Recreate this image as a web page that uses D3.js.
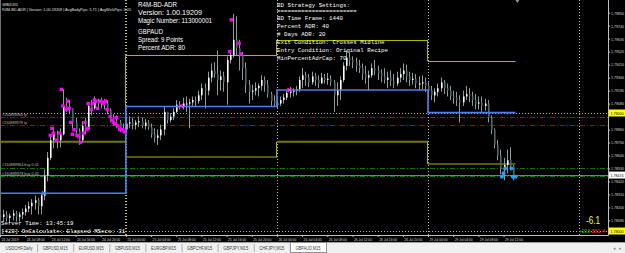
<!DOCTYPE html>
<html><head><meta charset="utf-8">
<script src="https://cdn.jsdelivr.net/npm/d3@7"></script>
<style>
html,body{margin:0;padding:0;background:#000;overflow:hidden}
svg{display:block}
</style></head><body>
<svg id="c" width="625" height="253"></svg>
<script>
// ---------- DATA ----------
// GBPAUD 30-min bars starting 24 Jul 2019 04:00 (trading-hour index 4), step 0.5 h
const barStartHour = 4, barStepHours = 0.5;
const firstOpen = 1.7813;
const highs = [
1.7816,1.7818,1.7817,1.7815,1.7818,1.7817,1.7816,1.7819,1.7822,1.7825,1.7827,1.7830,1.7828,1.7832,1.7852,1.7867,1.7882,1.7888,1.7885,1.7887,1.7920,1.7913,1.7911,1.7904,1.7896,1.7887,1.7893,1.7896,1.7909,1.7911,1.7914,1.7912,1.7913,1.7912,1.7911,1.7904,1.7899,1.7898,1.7894,1.7891,1.7896,
1.7897,1.7896,1.7894,1.7897,1.7896,1.7895,1.7894,1.7891,1.7887,1.7886,1.7890,1.7905,1.7901,1.7900,1.7904,1.7911,1.7910,1.7913,1.7914,1.7912,1.7914,1.7914,1.7919,1.7925,1.7925,1.7935,1.7942,1.7943,1.7953,1.7936,1.7935,1.7948,1.7953,1.7984,1.7982,1.7962,1.7952,1.7943,1.7928,1.7924,1.7926,1.7925,1.7932,1.7931,1.7928,1.7918,1.7915,
1.7913,1.7914,1.7916,1.7919,1.7922,1.7921,1.7923,1.7931,1.7938,1.7935,1.7933,1.7935,1.7934,1.7932,1.7934,1.7933,1.7934,1.7932,1.7928,1.7926,1.7931,1.7943,1.7953,1.7951,1.7948,1.7947,1.7945,1.7942,1.7940,1.7936,1.7942,1.7945,1.7940,1.7937,1.7938,1.7935,1.7936,1.7933,1.7935,1.7938,1.7942,1.7941,1.7935,1.7934,1.7933,1.7931,1.7932,1.7930,
1.7926,1.7923,1.7921,1.7925,1.7930,1.7928,1.7925,1.7923,1.7919,1.7918,1.7915,1.7919,1.7923,1.7921,1.7918,1.7916,1.7914,1.7914,1.7912,1.7911,1.7898,1.7887,1.7877,1.7869,1.7862,1.7869,1.7871,1.7856];
const lows = [
1.7808,1.7808,1.7808,1.7807,1.7809,1.7808,1.7808,1.7810,1.7813,1.7816,1.7814,1.7818,1.7814,1.7814,1.7826,1.7842,1.7860,1.7870,1.7870,1.7871,1.7881,1.7901,1.7899,1.7887,1.7881,1.7873,1.7875,1.7882,1.7886,1.7898,1.7903,1.7903,1.7904,1.7903,1.7899,1.7892,1.7889,1.7887,1.7884,1.7883,1.7884,
1.7887,1.7886,1.7886,1.7888,1.7887,1.7886,1.7886,1.7879,1.7875,1.7873,1.7877,1.7881,1.7891,1.7892,1.7894,1.7900,1.7903,1.7903,1.7901,1.7887,1.7906,1.7905,1.7908,1.7911,1.7904,1.7915,1.7926,1.7930,1.7915,1.7919,1.7918,1.7907,1.7942,1.7947,1.7949,1.7936,1.7928,1.7917,1.7908,1.7911,1.7915,1.7914,1.7919,1.7918,1.7913,1.7906,1.7905,
1.7904,1.7906,1.7908,1.7911,1.7913,1.7914,1.7915,1.7918,1.7921,1.7923,1.7922,1.7924,1.7923,1.7921,1.7925,1.7925,1.7924,1.7923,1.7901,1.7906,1.7911,1.7926,1.7936,1.7940,1.7938,1.7935,1.7934,1.7928,1.7925,1.7919,1.7930,1.7932,1.7928,1.7926,1.7925,1.7921,1.7923,1.7921,1.7923,1.7926,1.7928,1.7926,1.7923,1.7924,1.7921,1.7919,1.7920,1.7918,
1.7913,1.7911,1.7909,1.7914,1.7918,1.7916,1.7914,1.7911,1.7908,1.7906,1.7892,1.7906,1.7911,1.7909,1.7906,1.7903,1.7903,1.7901,1.7902,1.7892,1.7882,1.7870,1.7860,1.7848,1.7843,1.7849,1.7852,1.7843];
const closes = [
1.7812,1.7814,1.7811,1.7813,1.7815,1.7812,1.7814,1.7816,1.7819,1.7821,1.7824,1.7826,1.7821,1.7830,1.7847,1.7862,1.7877,1.7883,1.7877,1.7882,1.7906,1.7904,1.7904,1.7892,1.7885,1.7877,1.7889,1.7886,1.7906,1.7904,1.7910,1.7908,1.7910,1.7908,1.7903,1.7897,1.7893,1.7892,1.7887,1.7886,1.7891,
1.7892,1.7890,1.7892,1.7893,1.7889,1.7892,1.7888,1.7882,1.7879,1.7881,1.7886,1.7901,1.7894,1.7897,1.7901,1.7907,1.7905,1.7908,1.7908,1.7909,1.7911,1.7910,1.7915,1.7921,1.7919,1.7930,1.7936,1.7933,1.7928,1.7931,1.7926,1.7945,1.7949,1.7962,1.7955,1.7949,1.7938,1.7924,1.7918,1.7919,1.7921,1.7923,1.7928,1.7924,1.7916,1.7910,1.7908,
1.7908,1.7911,1.7913,1.7917,1.7918,1.7919,1.7920,1.7928,1.7932,1.7930,1.7926,1.7931,1.7928,1.7925,1.7930,1.7928,1.7929,1.7926,1.7915,1.7919,1.7928,1.7940,1.7947,1.7945,1.7943,1.7940,1.7938,1.7933,1.7930,1.7932,1.7938,1.7936,1.7934,1.7931,1.7928,1.7930,1.7927,1.7925,1.7930,1.7933,1.7936,1.7931,1.7928,1.7929,1.7925,1.7925,1.7926,1.7923,
1.7919,1.7915,1.7918,1.7921,1.7926,1.7921,1.7919,1.7914,1.7913,1.7911,1.7909,1.7914,1.7916,1.7914,1.7911,1.7908,1.7909,1.7906,1.7908,1.7896,1.7886,1.7873,1.7864,1.7853,1.7856,1.7860,1.7855,1.7847];

// signal markers (trading-hour, price)
const magentaHours = [12.0,12.25,12.5,13.0,13.5,13.75,14.0,14.5,14.75,15.0,15.25,15.5,15.75,16.25,16.5,16.75,17.25,17.5,17.75,18.0,18.0,18.5,18.75,19.0,19.25,19.5,20.0,20.25,20.5,20.75,21.0,21.5,21.75,22.0,22.25,22.5,22.75,23.0,23.5,23.75,40.5,40.75,42.0,42.25];
const magentaPrices = [1.7881,1.7887,1.7883,1.7877,1.7883,1.7920,1.7906,1.7903,1.7910,1.7904,1.7892,1.7882,1.7886,1.7881,1.7880,1.7875,1.7883,1.7892,1.7886,1.7887,1.7908,1.7903,1.7908,1.7911,1.7910,1.7904,1.7910,1.7909,1.7908,1.7910,1.7903,1.7897,1.7894,1.7892,1.7891,1.7896,1.7889,1.7886,1.7886,1.7884,1.7952,1.7979,1.7959,1.7950];
const blueDotHours = [83.75,84.0,84.25,85.25,85.5,85.9];
const blueDotPrices = [1.7846,1.7849,1.7853,1.7853,1.7846,1.7846];
const crossHours = [11.0,32.75,50.0];
const crossPrices = [1.7832,1.7906,1.79195];

// daily ADR box levels
const dayStartHours = [4,24,48,72];
const dayEndHours = [24,48,72,85.9];
const midline = [1.7832,1.79055,1.79195,1.79003];
const upperLevel = [null,1.7949,1.7962,1.7944];
const lowerLevel = [1.78757,1.78627,1.78757,1.78568];
const separatorHours = [24,48,72,96];

// horizontal order levels
const yellowLevels = [1.79000,1.78000];
const tpLevels = [1.78966,1.78898];
const tpLabels = ["#150889964 tp","#150889978 tp"];
const buyLevels = [1.78536,1.78466];
const buyLabels = ["#150889964 buy 0.01","#150889978 buy 0.01"];
const bidPrice = 1.78474;

// axes
const priceTicks = [1.7985,1.7974,1.7963,1.7952,1.7941,1.7930,1.7919,1.7908,1.7886,1.7875,1.7864,1.7853,1.7842,1.7831,1.7820,1.7809];
const timeTickHours = [4,8,12,16,20,24,28,32,36,40,44,48,52,56,60,64,68,72,76,80,84];
const timeTickLabels = ["24 Jul 2019","24 Jul 08:00","24 Jul 12:00","24 Jul 16:00","24 Jul 20:00","25 Jul 00:00","25 Jul 04:00","25 Jul 08:00","25 Jul 12:00","25 Jul 16:00","25 Jul 20:00","26 Jul 00:00","26 Jul 04:00","26 Jul 08:00","26 Jul 12:00","26 Jul 16:00","26 Jul 20:00","29 Jul 00:00","29 Jul 04:00","29 Jul 08:00","29 Jul 12:00"];

// texts
const infoLines = ["R4M-BD-ADR","Version: 1.00.19209","Magic Number: 113000001","GBPAUD","Spread: 9 Points","Percent ADR: 80"];
const settingsLines = ["BD Strategy Settings:","=======================","BD Time Frame: 1440","Percent ADR: 40","# Days ADR: 20","Exit Condition: Crosses Midline","Entry Condition: Original Recipe","MinPercentAdrCap: 70"];
const headerLines = ["GBPAUD,M15","R4M-BD-ADR | Version: 1.00.19209 | AvgBodyPips: 5.71 | AvgWickPips: 0.05"];
const statusLines = ["Server Time: 13:45:19","[429] OnCalculate: Elapsed MSecs: 31"];
const profitText = "-6.1", gainText = "+20.8", lossText = "381.4";
const tabs = ["USDCHF,Daily","GBPUSD,M15","EURUSD,M15","GBPUSD,M15","EURGBP,M15","GBPCHF,M15","GBPJPY,M15","CHFJPY,M15","GBPAUD,M15"];
const activeTab = "GBPAUD,M15";

// ---------- DRAW ----------
const svg = d3.select("#c");
const PR = 608, PB = 235;
const x = d3.scaleLinear().domain([4,100.6]).range([0,PR]);
const y = d3.scaleLinear().domain([1.78,1.79]).range([231,113]);

svg.append("rect").attr("width",625).attr("height",253).attr("fill","#000");
svg.append("defs").append("clipPath").attr("id","plot").append("rect").attr("width",PR).attr("height",PB);
const g = svg.append("g").attr("clip-path","url(#plot)");

// day separators
g.selectAll("line.sep").data(separatorHours).join("line")
 .attr("x1",d=>Math.round(x(d))+0.5).attr("x2",d=>Math.round(x(d))+0.5).attr("y1",0).attr("y2",PB)
 .attr("stroke","#b8b8b8").attr("stroke-dasharray","1,2");
g.append("line").attr("x1",Math.round(x(24))-0.5).attr("x2",Math.round(x(24))-0.5).attr("y1",0).attr("y2",PB)
 .attr("stroke","#c8c800").attr("stroke-dasharray","1,2");

// horizontal levels
g.selectAll("line.yl").data(yellowLevels).join("line")
 .attr("x1",0).attr("x2",PR).attr("y1",d=>Math.round(y(d))+0.5).attr("y2",d=>Math.round(y(d))+0.5)
 .attr("stroke","#c8c800").attr("stroke-dasharray","1,2");
g.selectAll("line.tp").data(tpLevels).join("line")
 .attr("x1",0).attr("x2",PR).attr("y1",d=>Math.round(y(d))+0.5).attr("y2",d=>Math.round(y(d))+0.5)
 .attr("stroke","#c00000").attr("stroke-dasharray","5,2,1,2");
g.append("line").attr("x1",0).attr("x2",PR).attr("y1",Math.round(y(bidPrice))+0.5).attr("y2",Math.round(y(bidPrice))+0.5)
 .attr("stroke","#6f7f8f");
g.selectAll("line.buy").data(buyLevels).join("line")
 .attr("x1",0).attr("x2",PR).attr("y1",d=>Math.round(y(d))+0.5).attr("y2",d=>Math.round(y(d))+0.5)
 .attr("stroke","#008000").attr("stroke-dasharray","5,2,1,2");

// order labels
g.selectAll("text.tpl").data(tpLabels).join("text")
 .attr("x",2).attr("y",(d,i)=>y(tpLevels[i])-1.5).text(d=>d)
 .attr("fill","#b8b8b8").attr("font-family","Liberation Sans, Arial").attr("font-size",4.2)
 .attr("textLength",25).attr("lengthAdjust","spacingAndGlyphs");
g.selectAll("text.buyl").data(buyLabels).join("text")
 .attr("x",2).attr("y",(d,i)=>y(buyLevels[i])-1.5).text(d=>d)
 .attr("fill","#b8b8b8").attr("font-family","Liberation Sans, Arial").attr("font-size",4.2)
 .attr("textLength",37).attr("lengthAdjust","spacingAndGlyphs");

// ADR box lines
const thinYellow = "#b4b400", olive = "#767600";
dayStartHours.forEach((s,i)=>{
  if(upperLevel[i]!==null){
    g.append("line").attr("x1",x(s)).attr("x2",x(dayEndHours[i])).attr("y1",Math.round(y(upperLevel[i]))+0.5).attr("y2",Math.round(y(upperLevel[i]))+0.5)
     .attr("stroke",thinYellow);
  }
  const thick = i%2===0;
  g.append("line").attr("x1",x(s)).attr("x2",x(dayEndHours[i])).attr("y1",y(lowerLevel[i])).attr("y2",y(lowerLevel[i]))
   .attr("stroke",thick?olive:thinYellow).attr("stroke-width",thick?2:1);
  if(i>0){
    const xv = Math.round(x(s))-0.5;
    if(upperLevel[i-1]!==null){
      g.append("line").attr("x1",xv).attr("x2",xv).attr("y1",y(upperLevel[i-1])).attr("y2",y(upperLevel[i])).attr("stroke",thinYellow);
    } else {
      g.append("line").attr("x1",xv).attr("x2",xv).attr("y1",y(upperLevel[i])).attr("y2",y(lowerLevel[i])).attr("stroke",thinYellow);
    }
    g.append("line").attr("x1",xv).attr("x2",xv).attr("y1",y(lowerLevel[i-1])).attr("y2",y(lowerLevel[i])).attr("stroke",thinYellow);
  }
});

// candles
const bars = closes.map((c,i)=>({t:barStartHour+i*barStepHours,o:i===0?firstOpen:closes[i-1],hi:highs[i],lo:lows[i],c}));
g.selectAll("line.wick").data(bars).join("line")
 .attr("x1",d=>Math.round(x(d.t))+0.5).attr("x2",d=>Math.round(x(d.t))+0.5)
 .attr("y1",d=>y(d.hi)).attr("y2",d=>y(d.lo)).attr("stroke","#8c9c9c");
g.selectAll("rect.body").data(bars).join("rect")
 .attr("x",d=>Math.round(x(d.t))).attr("width",1.6)
 .attr("y",d=>y(Math.max(d.o,d.c))).attr("height",d=>Math.max(1,Math.abs(y(d.o)-y(d.c))))
 .attr("fill",d=>d.c>=d.o?"#ffffff":"#4c6868");

// midline (blue step)
const midPts = [];
dayStartHours.forEach((s,i)=>{midPts.push([s,midline[i]]);midPts.push([dayEndHours[i],midline[i]]);});
g.append("path").attr("d",d3.line().x(d=>x(d[0])).y(d=>y(d[1]))(midPts))
 .attr("fill","none").attr("stroke","#4a7ff0").attr("stroke-width",1.6);

// markers
g.selectAll("rect.mg").data(magentaHours).join("rect")
 .attr("x",d=>x(d)-1.7).attr("y",(d,i)=>y(magentaPrices[i])-1.7).attr("width",3.4).attr("height",3.4).attr("fill","#ff00ff");
g.selectAll("circle.bd").data(blueDotHours).join("circle")
 .attr("cx",d=>x(d)).attr("cy",(d,i)=>y(blueDotPrices[i])).attr("r",2).attr("fill","#2a9dff");
crossHours.forEach((h,i)=>{
  const cx=x(h), cy=y(crossPrices[i]), col=i===0?"#3d8bff":"#ff33ff";
  g.append("path").attr("d",`M${cx-2},${cy-2}L${cx+2},${cy+2}M${cx-2},${cy+2}L${cx+2},${cy-2}`).attr("stroke",col).attr("stroke-width",1.2);
});

// borders
svg.append("line").attr("x1",PR+0.5).attr("x2",PR+0.5).attr("y1",0).attr("y2",PB+0.5).attr("stroke","#c0c0c0");
svg.append("line").attr("x1",0).attr("x2",PR+0.5).attr("y1",PB+0.5).attr("y2",PB+0.5).attr("stroke","#c0c0c0");
svg.append("line").attr("x1",0.5).attr("x2",0.5).attr("y1",0).attr("y2",PB).attr("stroke","#707070");
svg.append("path").attr("d",`M${x(86.2)-2},0L${x(86.2)+2},0L${x(86.2)},3Z`).attr("fill","#909090");

// price axis
const ya = svg.append("g").attr("transform",`translate(${PR},0)`)
 .call(d3.axisRight(y).tickValues(priceTicks).tickFormat(d3.format(".5f")).tickSize(2).tickPadding(1));
ya.select(".domain").remove();
ya.selectAll("line").attr("stroke","#c0c0c0");
ya.selectAll("text").attr("fill","#d8d8d8").attr("font-family","Liberation Sans, Arial").attr("font-size",4.2)
 .attr("textLength",13).attr("lengthAdjust","spacingAndGlyphs");

// highlighted price labels
const hl = [{p:yellowLevels[0],bg:"#ffff00"},{p:bidPrice,bg:"#ffffff"},{p:yellowLevels[1],bg:"#ffff00"}];
hl.forEach(h=>{
  const yy = y(h.p);
  svg.append("rect").attr("x",PR+1).attr("y",yy-3.5).attr("width",16).attr("height",7).attr("fill",h.bg);
  svg.append("text").attr("x",PR+2.5).attr("y",yy+1.6).text(d3.format(".5f")(h.p))
   .attr("fill","#000").attr("font-family","Liberation Sans, Arial").attr("font-size",4.4)
   .attr("textLength",13).attr("lengthAdjust","spacingAndGlyphs");
});

// time axis
const xa = svg.append("g").attr("transform",`translate(0,${PB})`)
 .call(d3.axisBottom(x).tickValues(timeTickHours).tickFormat((d,i)=>timeTickLabels[i]).tickSize(2).tickPadding(0));
xa.select(".domain").remove();
xa.selectAll("line").attr("stroke","#c0c0c0");
xa.selectAll("text").attr("fill","#d8d8d8").attr("font-family","Liberation Sans, Arial").attr("font-size",4)
 .attr("text-anchor","start").attr("dx",1).attr("y",5.5).attr("dy",0)
 .attr("textLength",(d,i)=>i===0?17:18).attr("lengthAdjust","spacingAndGlyphs");

// header text
svg.append("text").attr("x",2).attr("y",5.5).text(headerLines[0]).attr("fill","#e0e0e0")
 .attr("font-family","Liberation Sans, Arial").attr("font-size",4.3).attr("textLength",16).attr("lengthAdjust","spacingAndGlyphs");
svg.append("text").attr("x",2).attr("y",10.5).text(headerLines[1]).attr("fill","#e0e0e0")
 .attr("font-family","Liberation Sans, Arial").attr("font-size",4.3).attr("textLength",129).attr("lengthAdjust","spacingAndGlyphs");

// info block
const infoY = [7.2,15.2,23.2,34,42,49.7];
const infoW = [39,64,74,25,45,47];
svg.selectAll("text.info").data(infoLines).join("text")
 .attr("x",138).attr("y",(d,i)=>infoY[i]).text(d=>d).attr("fill","#ffffff")
 .attr("font-family","Liberation Sans, Arial").attr("font-size",7.2)
 .attr("textLength",(d,i)=>infoW[i]).attr("lengthAdjust","spacingAndGlyphs");

// settings block (monospace)
const setY = [6.5,12.5,19.5,27.5,35.5,43.5,51.5,59.5];
svg.selectAll("text.set").data(settingsLines).join("text")
 .attr("x",277).attr("y",(d,i)=>setY[i]).text(d=>d).attr("fill","#ffffff")
 .attr("font-family","Liberation Mono, DejaVu Sans Mono, monospace").attr("font-size",6.2)
 .attr("textLength",d=>d.length*3.47).attr("lengthAdjust","spacingAndGlyphs");

// status lines
svg.selectAll("text.st").data(statusLines).join("text")
 .attr("x",1).attr("y",(d,i)=>[225,233.2][i]).text(d=>d).attr("fill","#ffffff")
 .attr("font-family","Liberation Mono, DejaVu Sans Mono, monospace").attr("font-size",5.8)
 .attr("textLength",d=>d.length*3.45).attr("lengthAdjust","spacingAndGlyphs");

// profit text
svg.append("text").attr("x",586).attr("y",224).text(profitText).attr("fill","#ffff00")
 .attr("font-family","Liberation Sans, Arial").attr("font-size",10).attr("textLength",14).attr("lengthAdjust","spacingAndGlyphs");
svg.append("text").attr("x",579.5).attr("y",232.5).text(gainText).attr("fill","#22cc22")
 .attr("font-family","Liberation Sans, Arial").attr("font-size",4.6).attr("textLength",11).attr("lengthAdjust","spacingAndGlyphs");
svg.append("text").attr("x",591).attr("y",232.5).text(lossText).attr("fill","#ff3a1a")
 .attr("font-family","Liberation Sans, Arial").attr("font-size",4.6).attr("textLength",14).attr("lengthAdjust","spacingAndGlyphs");

// tab bar
svg.append("rect").attr("x",0).attr("y",242).attr("width",625).attr("height",11).attr("fill","#f0f0f0");
svg.append("line").attr("x1",0).attr("x2",625).attr("y1",242.5).attr("y2",242.5).attr("stroke","#a0a0a0");
const tb = d3.scaleBand().domain(tabs.map((t,i)=>i)).range([1,326]).paddingInner(0);
tabs.forEach((t,i)=>{
  const x0 = tb(i), w = tb.bandwidth();
  if(t===activeTab){
    svg.append("rect").attr("x",x0+0.5).attr("y",242.5).attr("width",w).attr("height",10).attr("fill","#ffffff").attr("stroke","#909090");
  } else {
    svg.append("line").attr("x1",x0+w+0.5).attr("x2",x0+w+0.5).attr("y1",244).attr("y2",252).attr("stroke","#b0b0b0");
  }
  svg.append("text").attr("x",x0+w/2).attr("y",249.8).attr("text-anchor","middle").text(t)
   .attr("fill","#404040").attr("font-family","Liberation Sans, Arial").attr("font-size",4.6)
   .attr("textLength",t.length>11?27:25).attr("lengthAdjust","spacingAndGlyphs");
});
svg.append("text").attr("x",613).attr("y",249.5).text("◂").attr("fill","#909090").attr("font-size",5);
svg.append("text").attr("x",619).attr("y",249.5).text("▸").attr("fill","#909090").attr("font-size",5);
</script>
</body></html>
